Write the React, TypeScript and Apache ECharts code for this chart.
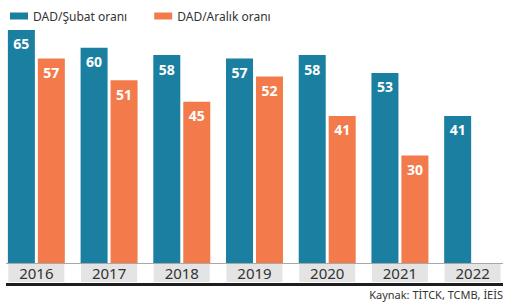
import React, { useEffect, useRef } from "react";
import * as echarts from "echarts";

const years = ["2016", "2017", "2018", "2019", "2020", "2021", "2022"];
const subatValues = [65, 60, 58, 57, 58, 53, 41];
const aralikValues: (number | null)[] = [57, 51, 45, 52, 41, 30, null];
const seriesNames = ["DAD/Şubat oranı", "DAD/Aralık oranı"];
const sourceText = "Kaynak: TİTCK, TCMB, İEİS";

const BLUE = "#1b7fa1";
const ORANGE = "#f37b4b";
const FONT = "Noto Sans";

export default function App() {
  const ref = useRef<HTMLDivElement>(null);
  useEffect(() => {
    if (!ref.current) return;
    const chart = echarts.init(ref.current, undefined, { renderer: "svg" });
    const valueLabel = {
      show: true,
      position: "insideTop" as const,
      distance: 7,
      color: "#ffffff",
      fontFamily: FONT,
      fontWeight: "bold" as const,
      fontSize: 14,
    };
    chart.setOption({
      animation: false,
      backgroundColor: "#ffffff",
      textStyle: { fontFamily: FONT },
      legend: {
        left: 5,
        top: 5,
        icon: "rect",
        itemWidth: 18,
        itemHeight: 7,
        itemGap: 27,
        textStyle: { fontSize: 12, color: "#333333", fontFamily: FONT },
        data: seriesNames,
      },
      grid: { left: -3, right: -5, top: 12, bottom: 43, containLabel: false },
      xAxis: {
        type: "category",
        data: years,
        axisLine: { show: false },
        axisTick: { show: false },
        axisLabel: {
          margin: 1,
          interval: 0,
          backgroundColor: "#e4e4e4",
          width: 56,
          height: 18,
          lineHeight: 18,
          align: "center",
          fontSize: 15,
          color: "#333333",
          fontFamily: FONT,
        },
      },
      yAxis: { type: "value", min: 0, max: 70, show: false, splitLine: { show: false } },
      series: [
        {
          name: seriesNames[0],
          type: "bar",
          data: subatValues,
          itemStyle: { color: BLUE },
          barWidth: 27,
          barGap: "11%",
          barCategoryGap: "24%",
          label: valueLabel,
        },
        {
          name: seriesNames[1],
          type: "bar",
          data: aralikValues,
          itemStyle: { color: ORANGE },
          barWidth: 27,
          label: valueLabel,
        },
      ],
      graphic: [
        {
          type: "line",
          shape: { x1: 6, y1: 263.5, x2: 503, y2: 263.5 },
          style: { stroke: "#a8a8a8", lineWidth: 1 },
          z: 10,
        },
        {
          type: "rect",
          shape: { x: 6, y: 283, width: 497, height: 3 },
          style: { fill: "#1e1e1e" },
        },
        {
          type: "text",
          right: 6,
          top: 289,
          style: {
            text: sourceText,
            fontSize: 11,
            fill: "#333333",
            fontFamily: FONT,
          },
        },
      ],
    });
    return () => chart.dispose();
  }, []);
  return <div ref={ref} style={{ width: 509, height: 306, position: "absolute", left: 0, top: 0 }} />;
}
